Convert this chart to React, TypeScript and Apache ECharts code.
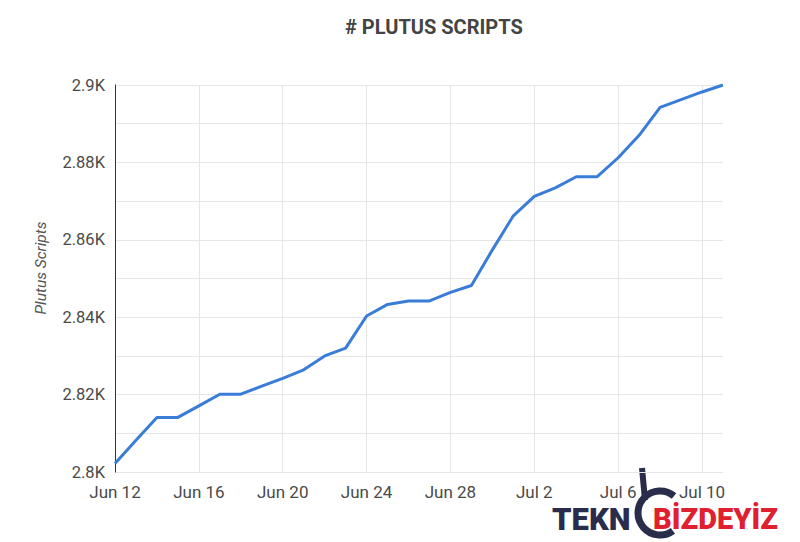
import React, { useEffect, useRef } from "react";
import * as echarts from "echarts";

const title = "# PLUTUS SCRIPTS";
const yAxisName = "Plutus Scripts";
const dates = [
  "Jun 12", "Jun 13", "Jun 14", "Jun 15", "Jun 16", "Jun 17", "Jun 18", "Jun 19", "Jun 20", "Jun 21",
  "Jun 22", "Jun 23", "Jun 24", "Jun 25", "Jun 26", "Jun 27", "Jun 28", "Jun 29", "Jun 30", "Jul 1",
  "Jul 2", "Jul 3", "Jul 4", "Jul 5", "Jul 6", "Jul 7", "Jul 8", "Jul 9", "Jul 10", "Jul 11",
];
const scripts = [
  2802.2, 2808.2, 2814.1, 2814.1, 2817.1, 2820.1, 2820.1, 2822.2, 2824.2, 2826.4,
  2830.0, 2832.0, 2840.3, 2843.3, 2844.2, 2844.2, 2846.4, 2848.2, 2857.4, 2866.2,
  2871.2, 2873.4, 2876.3, 2876.3, 2881.2, 2887.0, 2894.2, 2896.2, 2898.2, 2900.0,
];
const yMin = 2800;
const yMax = 2900;
const yStep = 10;
const watermarkLeft = "TEKN";
const watermarkRight = "BİZDEYİZ";

export default function App() {
  const ref = useRef<HTMLDivElement>(null);
  useEffect(() => {
    if (!ref.current) return;
    const chart = echarts.init(ref.current, null, { renderer: "svg" });
    const font = "Roboto, 'Noto Sans', sans-serif";
    chart.setOption({
      animation: false,
      backgroundColor: "#ffffff",
      textStyle: { fontFamily: font },
      title: {
        text: title,
        left: 340,
        top: 12,
        textStyle: { fontFamily: font, fontSize: 20, fontWeight: "bold", color: "#444444" },
      },
      grid: { left: 115, right: 77, top: 85, bottom: 70, containLabel: false },
      xAxis: {
        type: "category",
        data: dates,
        boundaryGap: false,
        axisLine: { show: false },
        axisTick: { show: false },
        axisLabel: { interval: 3, color: "#4a4a4a", fontSize: 17, margin: 11, fontFamily: font },
        splitLine: { show: true, interval: 3, lineStyle: { color: "#e6e6e6", width: 1 } },
      },
      yAxis: {
        type: "value",
        min: yMin,
        max: yMax,
        interval: yStep,
        axisLine: { show: true, lineStyle: { color: "#333333", width: 1 } },
        axisTick: { show: false },
        axisLabel: {
          color: "#4a4a4a",
          fontSize: 16.5,
          margin: 10,
          fontFamily: font,
          formatter: (v: number) => (Math.round(v - yMin) % 20 === 0 ? `${v / 1000}K` : ""),
        },
        splitLine: { show: true, lineStyle: { color: "#e6e6e6", width: 1 } },
      },
      series: [
        {
          type: "line",
          data: scripts,
          showSymbol: false,
          lineStyle: { color: "#3a7dd8", width: 3 },
          itemStyle: { color: "#3a7dd8" },
        },
      ],
      graphic: [
        {
          type: "text",
          x: 41,
          y: 268,
          rotation: Math.PI / 2,
          style: {
            text: yAxisName,
            fontSize: 15.5,
            fontStyle: "italic",
            fill: "#555555",
            fontFamily: font,
            textAlign: "center",
            textVerticalAlign: "middle",
          },
        },
        {
          type: "text",
          left: 552,
          top: 504,
          style: { text: watermarkLeft, fontSize: 31, lineHeight: 21, fontWeight: 900, fill: "#2a2c4c", fontFamily: font },
        },
        {
          type: "arc",
          shape: { cx: 660, cy: 513, r: 22, startAngle: Math.PI * 0.3, endAngle: Math.PI * 1.72, clockwise: true },
          style: { stroke: "#2a2c4c", lineWidth: 7, fill: "none" },
        },
        {
          type: "line",
          shape: { x1: 642, y1: 468, x2: 645, y2: 500 },
          style: { stroke: "#2a2c4c", lineWidth: 6 },
        },
        {
          type: "text",
          left: 653,
          top: 504,
          style: { text: watermarkRight, fontSize: 29, lineHeight: 21, fontWeight: 900, fill: "#e0202e", fontFamily: font },
        },
      ],
    });
    return () => chart.dispose();
  }, []);
  return <div ref={ref} style={{ width: 800, height: 542, position: "absolute", left: 0, top: 0 }} />;
}
